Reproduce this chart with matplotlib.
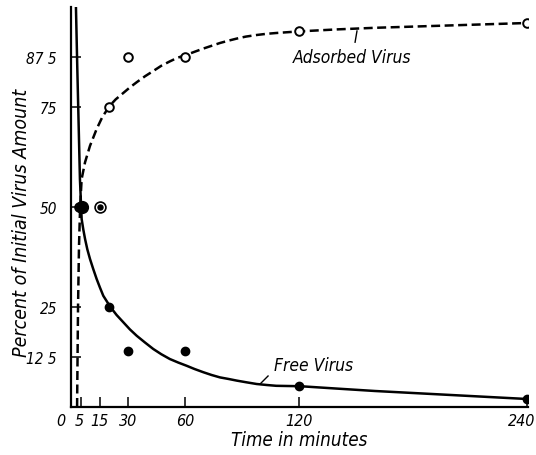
import matplotlib
matplotlib.use("Agg")
from matplotlib import pyplot as plt
from matplotlib.transforms import offset_copy

plt.rcParams["font.family"] = ["DejaVu Sans"]
plt.rcParams["font.style"] = "oblique"
plt.rcParams["font.stretch"] = "condensed"

# measured points
ads_t = [4, 20, 30, 60, 120, 240]
ads_v = [50, 75, 87.5, 87.5, 94, 96]
free_t = [20, 30, 60, 120, 240]
free_v = [25, 14, 14, 5.2, 2]
big_t = [6]
big_v = [50]
both_t = [15]
both_v = [50]

# hand-drawn fitted curves
ads_curve_t = [3.2, 3.4, 3.7, 4.2, 4.8, 5.6, 7.4, 10, 13.5, 16.5, 20.2, 23.5,
               27.5, 31, 34.6, 39, 43.3, 47.5, 52, 56, 60.5, 65, 69.6, 74,
               78.4, 83, 87.2, 92, 97.7, 103, 108, 114, 120, 140, 160, 180,
               200, 220, 240]
ads_curve_v = [0, 10, 25, 40, 50, 57, 61.2, 65.3, 69.5, 72.5, 75.2, 76.9,
               78.5, 79.9, 81.2, 82.7, 84, 85.3, 86.4, 87.3, 88, 88.8, 89.6,
               90.3, 91, 91.6, 92.1, 92.6, 93, 93.3, 93.5, 93.7, 93.9, 94.4,
               94.8, 95.1, 95.4, 95.7, 96]
free_curve_t = [2.6, 3.3, 4.0, 4.7, 5.6, 6.5, 7.4, 8.6, 10, 11.7, 13.5, 15.2,
                17, 19, 20.9, 24, 27.5, 31, 34.6, 39, 43.3, 47.5, 52, 56.5,
                60.9, 65, 69.6, 74, 78.4, 83, 87.2, 92, 97.7, 103, 108, 114,
                120.5, 140, 160, 180, 200, 220, 240]
free_curve_v = [100, 85, 71, 57, 47, 44.3, 42, 39.4, 37, 34.5, 32, 29.9,
                27.8, 26.3, 24.9, 23, 21.2, 19.4, 17.8, 16.1, 14.5, 13.2, 12,
                11.1, 10.3, 9.5, 8.7, 8, 7.4, 7, 6.6, 6.2, 5.75, 5.5, 5.3, 5.25,
                5.2, 4.6, 4, 3.5, 3, 2.5, 2]

xticks = [0, 5, 15, 30, 60, 120, 240]
yticks = [12.5, 25, 50, 75, 87.5]
ytick_labels = ["12 5", "25", "50", "75", "87 5"]

fig = plt.figure(figsize=(5.36, 4.56), dpi=100)
ax = fig.add_axes([71 / 536, 1 - 408 / 456, 457 / 536, 400 / 456])

ax.plot(free_curve_t, free_curve_v, color="black", lw=1.8, solid_joinstyle="round")
ax.plot(ads_curve_t, ads_curve_v, color="black", lw=1.8, dashes=(3.6, 1.8))

ax.plot(ads_t, ads_v, "o", ms=6.2, mfc="white", mec="black", mew=1.4)
ax.plot(free_t, free_v, "o", ms=6, color="black")
ax.plot(big_t, big_v, "o", ms=8.5, color="black")
ax.plot(both_t, both_v, "o", ms=7.8, mfc="white", mec="black", mew=1.2)
ax.plot(both_t, both_v, "o", ms=3.6, color="black")

ax.plot([99.5, 103.7], [5.75, 7.75], color="black", lw=1)
ax.text(107, 10.5, "Free Virus", fontsize=12.5, va="center", ha="left")
ax.plot([150.5, 149.5], [94, 91.2], color="black", lw=1)
ax.text(117, 87.5, "Adsorbed Virus", fontsize=12.5, va="center", ha="left")

ax.set_xlim(0, 240.5)
ax.set_ylim(0, 100)
ax.set_xticks(xticks)
ax.set_xticklabels([str(t) for t in xticks])
ax.set_yticks(yticks)
ax.set_yticklabels(ytick_labels)
ax.tick_params(direction="in", length=7, width=1.1, labelsize=11.5)
ax.tick_params(axis="x", pad=4)
ax.tick_params(axis="y", pad=10, labelsize=11)

# nudge the end labels as in the original
shifts = {0: -10, 5: -1, 240: -5}
for tick_val, lab in zip(xticks, ax.get_xticklabels()):
    if tick_val in shifts:
        lab.set_transform(offset_copy(lab.get_transform(), fig=fig,
                                      x=shifts[tick_val], units="dots"))

for side in ["top", "right"]:
    ax.spines[side].set_visible(False)
for side in ["left", "bottom"]:
    ax.spines[side].set_linewidth(1.6)

ax.set_xlabel("Time in minutes", fontsize=13.5, labelpad=2)
ax.set_ylabel("Percent of Initial Virus Amount", fontsize=14)
ax.yaxis.set_label_coords(-0.088, 0.4625)

fig.savefig("out.png", dpi=100)
plt.close()
